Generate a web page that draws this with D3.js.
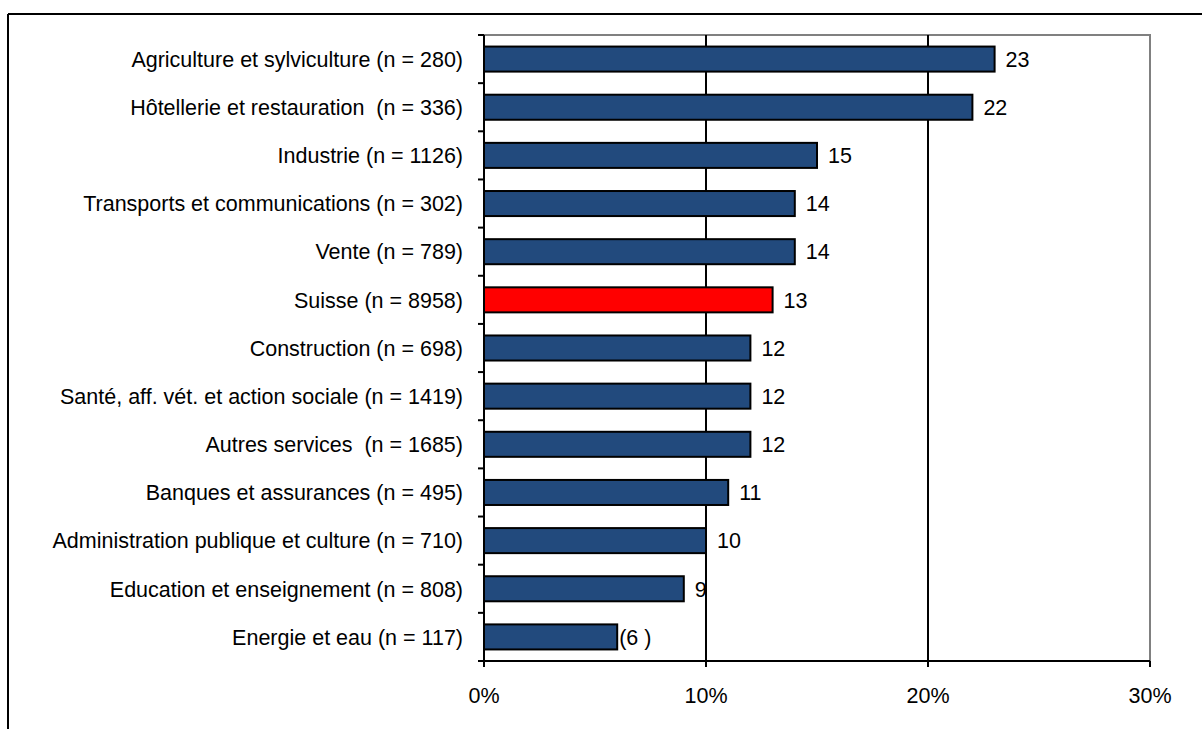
<!DOCTYPE html>
<html><head><meta charset="utf-8">
<script src="https://cdn.jsdelivr.net/npm/d3@7"></script>
<style>body{margin:0;background:#fff;}svg{display:block;font-family:"Liberation Sans",Arial,sans-serif;}</style>
</head><body>
<script>
const categories = [
  "Agriculture et sylviculture (n = 280)",
  "Hôtellerie et restauration  (n = 336)",
  "Industrie (n = 1126)",
  "Transports et communications (n = 302)",
  "Vente (n = 789)",
  "Suisse (n = 8958)",
  "Construction (n = 698)",
  "Santé, aff. vét. et action sociale (n = 1419)",
  "Autres services  (n = 1685)",
  "Banques et assurances (n = 495)",
  "Administration publique et culture (n = 710)",
  "Education et enseignement (n = 808)",
  "Energie et eau (n = 117)"
];
const values = [23, 22, 15, 14, 14, 13, 12, 12, 12, 11, 10, 9, 6];
const valueLabels = ["23","22","15","14","14","13","12","12","12","11","10","9","(6 )"];
const highlight = ["Suisse (n = 8958)"];
const xTicks = [0, 10, 20, 30];
const xTickLabels = ["0%","10%","20%","30%"];

const W = 1202, H = 729;
const FS = 21.5;
const svg = d3.select("body").append("svg").attr("width", W).attr("height", H);

// outer frame
svg.append("line").attr("x1",8).attr("x2",W).attr("y1",14).attr("y2",14).attr("stroke","#000").attr("stroke-width",2);
svg.append("line").attr("x1",8).attr("x2",8).attr("y1",14).attr("y2",H).attr("stroke","#000").attr("stroke-width",2);

const pLeft = 484, pRight = 1150, pTop = 35, pBottom = 661;
const x = d3.scaleLinear().domain([0,30]).range([pLeft,pRight]);
const y = d3.scaleBand().domain(categories).range([pTop,pBottom]).paddingInner(0.48).paddingOuter(0.24);
const yb = d3.scaleBand().domain(categories).range([pTop,pBottom]);

// plot border (gray)
svg.append("path").attr("d",`M${pLeft},${pTop}H${pRight}V${pBottom}`).attr("fill","none").attr("stroke","#808080").attr("stroke-width",2);

// gridlines
svg.selectAll(".grid").data(xTicks.filter(t=>t>0 && t<30)).join("line")
  .attr("x1",d=>x(d)).attr("x2",d=>x(d)).attr("y1",pTop).attr("y2",pBottom)
  .attr("stroke","#000").attr("stroke-width",2);

// bars
svg.selectAll(".bar").data(categories).join("rect")
  .attr("x", pLeft)
  .attr("y", d=>y(d))
  .attr("width", (d,i)=>x(values[i])-pLeft)
  .attr("height", y.bandwidth())
  .attr("fill", d=>highlight.includes(d) ? "#FF0000" : "#224A7D")
  .attr("stroke","#000").attr("stroke-width",2);

// value labels
svg.selectAll(".val").data(categories).join("text")
  .attr("x",(d,i)=>x(values[i]) + (i===12 ? 2 : 11))
  .attr("y",d=>y(d)+y.bandwidth()/2)
  .attr("dy","0.36em")
  .attr("font-size",FS).attr("fill","#000")
  .style("white-space","pre")
  .text((d,i)=>valueLabels[i]);

// y axis
const yAxisG = svg.append("g");
yAxisG.append("line").attr("x1",pLeft).attr("x2",pLeft).attr("y1",pTop).attr("y2",pBottom).attr("stroke","#000").attr("stroke-width",2);
const bounds = categories.map(c=>yb(c)).concat([pBottom]);
yAxisG.selectAll(".yt").data(bounds).join("line")
  .attr("x1",pLeft-6).attr("x2",pLeft).attr("y1",d=>d).attr("y2",d=>d)
  .attr("stroke","#000").attr("stroke-width",2);
yAxisG.selectAll(".yl").data(categories).join("text")
  .attr("x",463).attr("y",d=>yb(d)+yb.bandwidth()/2).attr("dy","0.36em")
  .attr("text-anchor","end").attr("font-size",FS).attr("fill","#000")
  .style("white-space","pre")
  .text(d=>d);

// x axis
const xAxisG = svg.append("g");
xAxisG.append("line").attr("x1",pLeft).attr("x2",pRight).attr("y1",pBottom).attr("y2",pBottom).attr("stroke","#000").attr("stroke-width",2);
xAxisG.selectAll(".xt").data(xTicks).join("line")
  .attr("x1",d=>x(d)).attr("x2",d=>x(d)).attr("y1",pBottom).attr("y2",pBottom+6)
  .attr("stroke","#000").attr("stroke-width",2);
xAxisG.selectAll(".xl").data(xTicks).join("text")
  .attr("x",d=>x(d)).attr("y",703).attr("text-anchor","middle")
  .attr("font-size",FS).attr("fill","#000")
  .text((d,i)=>xTickLabels[i]);
</script>
</body></html>
